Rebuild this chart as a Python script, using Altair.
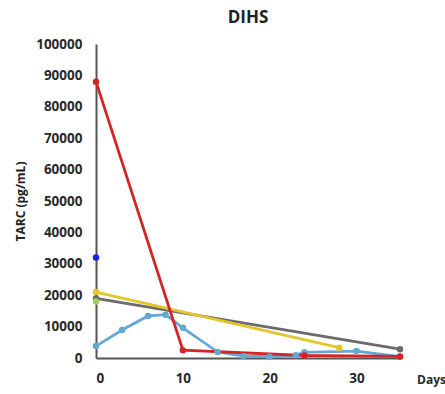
import altair as alt
import pandas as pd

# Series data (days, TARC pg/mL)
red_days = [0, 10, 24, 35]
red_vals = [88000, 2500, 800, 500]
gray_days = [0, 35]
gray_vals = [19000, 2800]
yellow_days = [0, 28]
yellow_vals = [21000, 3300]
lblue_days = [0, 3, 6, 8, 10, 14, 17, 20, 23, 24, 30, 35]
lblue_vals = [3800, 8900, 13400, 13800, 9600, 1900, 600, 400, 900, 1800, 2200, 400]
blue_days = [0]
blue_vals = [32000]
green_days = [0]
green_vals = [18000]

series = [
    ("gray", gray_days, gray_vals, "#6b6b6b"),
    ("yellow", yellow_days, yellow_vals, "#e3c52c"),
    ("lightblue", lblue_days, lblue_vals, "#63a9d3"),
    ("red", red_days, red_vals, "#d42525"),
    ("blue", blue_days, blue_vals, "#1f1fff"),
    ("green", green_days, green_vals, "#a3cf5e"),
]

rows = []
for name, ds, vs, _ in series:
    for d, v in zip(ds, vs):
        rows.append({"series": name, "day": d, "val": v})
df = pd.DataFrame(rows)

names = [s[0] for s in series]
colors = [s[3] for s in series]

x = alt.X("day:Q", scale=alt.Scale(domain=[0, 35], nice=False),
          axis=alt.Axis(values=[0, 10, 20, 30], grid=False, ticks=False,
                        domainColor="#555555", domainWidth=2,
                        labelFont="Open Sans", labelFontWeight="bold", labelFontSize=13.5,
                        labelColor="#2a2a2a", labelPadding=13,
                        title="Days", titleFont="Open Sans", titleFontWeight="bold",
                        titleFontSize=12, titleColor="#2a2a2a",
                        titleX=335, titleY=21, titleAlign="center", titleBaseline="middle"))
y = alt.Y("val:Q", scale=alt.Scale(domain=[0, 100000], nice=False),
          axis=alt.Axis(values=list(range(0, 100001, 10000)), grid=False, ticks=False,
                        format="d", labelOverlap=False,
                        domainColor="#555555", domainWidth=2,
                        labelFont="Open Sans", labelFontWeight="bold", labelFontSize=13.5,
                        labelColor="#2a2a2a", labelPadding=14,
                        title="TARC (pg/mL)", titleFont="Open Sans", titleFontWeight="bold",
                        titleFontSize=12, titleColor="#222222", titlePadding=8))
color = alt.Color("series:N", scale=alt.Scale(domain=names, range=colors), legend=None)

base = alt.Chart(df).encode(x=x, y=y, color=color)
lines = base.mark_line(strokeWidth=2.8).encode(detail="series:N", order="day:Q")
points = base.mark_circle(size=42, opacity=1)

chart = alt.layer(lines, points).properties(
    width=304, height=314,
    title=alt.TitleParams("DIHS", font="Open Sans", fontSize=17, fontWeight="bold",
                          color="#222222", anchor="middle", offset=10),
    autosize=alt.AutoSizeParams(type="none"),
    padding={"left": 96, "top": 44, "right": 45, "bottom": 36},
).configure_view(stroke=None).configure_axis(labelOverlap=False)

chart.save("out.html", embed_options={"renderer": "svg", "actions": False})
